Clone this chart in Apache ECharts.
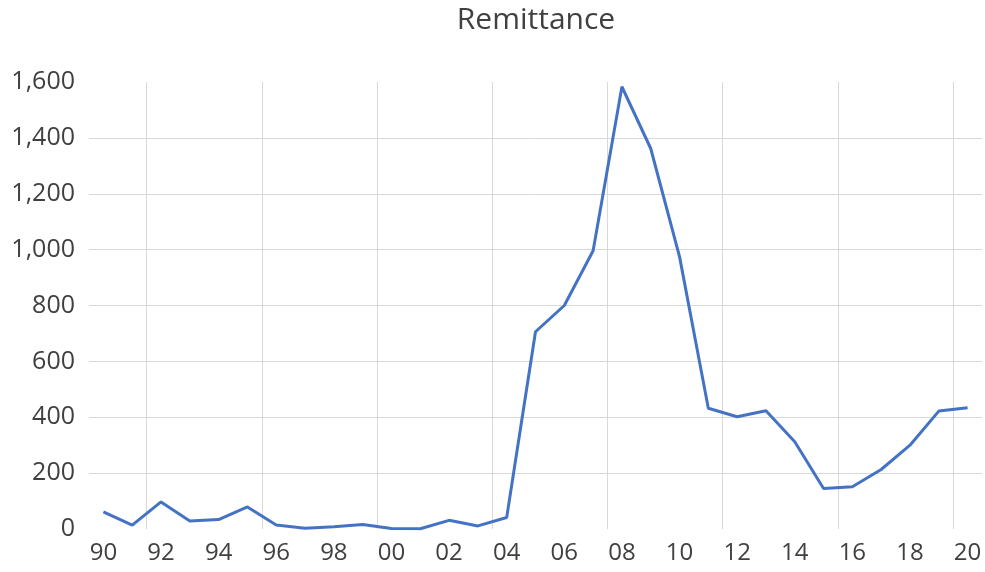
<!DOCTYPE html>
<html>
<head>
<meta charset="utf-8">
<title>Remittance</title>
<script src="https://cdn.jsdelivr.net/npm/echarts@6/dist/echarts.min.js"></script>
<style>
  html, body { margin: 0; padding: 0; background: #ffffff; }
  #chart { width: 985px; height: 572px; }
</style>
</head>
<body>
<div id="chart"></div>
<script>
// Two-digit year labels, 1990 through 2020
const years = ['90', '91', '92', '93', '94', '95', '96', '97', '98', '99',
               '00', '01', '02', '03', '04', '05', '06', '07', '08', '09',
               '10', '11', '12', '13', '14', '15', '16', '17', '18', '19', '20'];

// Remittance per year
const remittance = [61, 14, 97, 29, 34, 79, 14, 3, 8, 16,
                    2, 1, 31, 11, 41, 706, 800, 996, 1583, 1362,
                    975, 432, 402, 423, 312, 145, 151, 213, 300, 422, 434];

// Value axis ticks
const yMin = 0;
const yMax = 1600;
const yStep = 200;

const chart = echarts.init(document.getElementById('chart'), null, { renderer: 'canvas' });

const labelFont = '"Open Sans", "Noto Sans", sans-serif';
const gridColor = '#d9d9d9';
const textColor = '#404040';

// Band edges of the year axis: edge k is the left edge of year k (the last
// one closes the final band). Vertical gridlines sit on every fourth edge,
// starting between 91 and 92.
const bandEdges = years.map(function (_, i) { return i; }).concat([years.length]);

chart.setOption({
  animation: false,
  backgroundColor: '#ffffff',
  title: {
    text: 'Remittance',
    left: 531,
    top: 0,
    textAlign: 'center',
    textStyle: {
      fontFamily: labelFont,
      fontSize: 30,
      fontWeight: 'normal',
      color: textColor
    }
  },
  grid: {
    left: 89,
    right: 3,
    top: 82,
    bottom: 43,
    containLabel: false
  },
  xAxis: [{
    type: 'category',
    data: years,
    boundaryGap: true,
    axisLine: { show: false },
    axisTick: { show: false },
    axisLabel: {
      interval: 1,
      margin: 12,
      fontFamily: labelFont,
      fontSize: 24,
      color: textColor
    },
    splitLine: { show: false }
  }, {
    type: 'category',
    data: bandEdges,
    boundaryGap: false,
    position: 'bottom',
    axisLine: { show: false },
    axisTick: { show: false },
    axisLabel: { show: false },
    splitLine: {
      show: true,
      interval: function (index) { return index % 4 === 2; },
      lineStyle: { color: gridColor, width: 1 }
    }
  }],
  yAxis: {
    type: 'value',
    min: yMin,
    max: yMax,
    interval: yStep,
    axisLine: { show: false },
    axisTick: { show: false },
    axisLabel: {
      margin: 14,
      padding: [0, 0, 6, 0],
      fontFamily: labelFont,
      fontSize: 25,
      color: textColor,
      formatter: function (v) { return v.toLocaleString('en-US'); }
    },
    splitLine: {
      show: true,
      showMinLine: false,
      showMaxLine: false,
      lineStyle: { color: gridColor, width: 1 }
    }
  },
  series: [{
    name: 'Remittance',
    type: 'line',
    xAxisIndex: 0,
    data: remittance,
    symbol: 'none',
    smooth: false,
    lineStyle: { color: '#4472C4', width: 3 },
    itemStyle: { color: '#4472C4' }
  }]
});
</script>
</body>
</html>
